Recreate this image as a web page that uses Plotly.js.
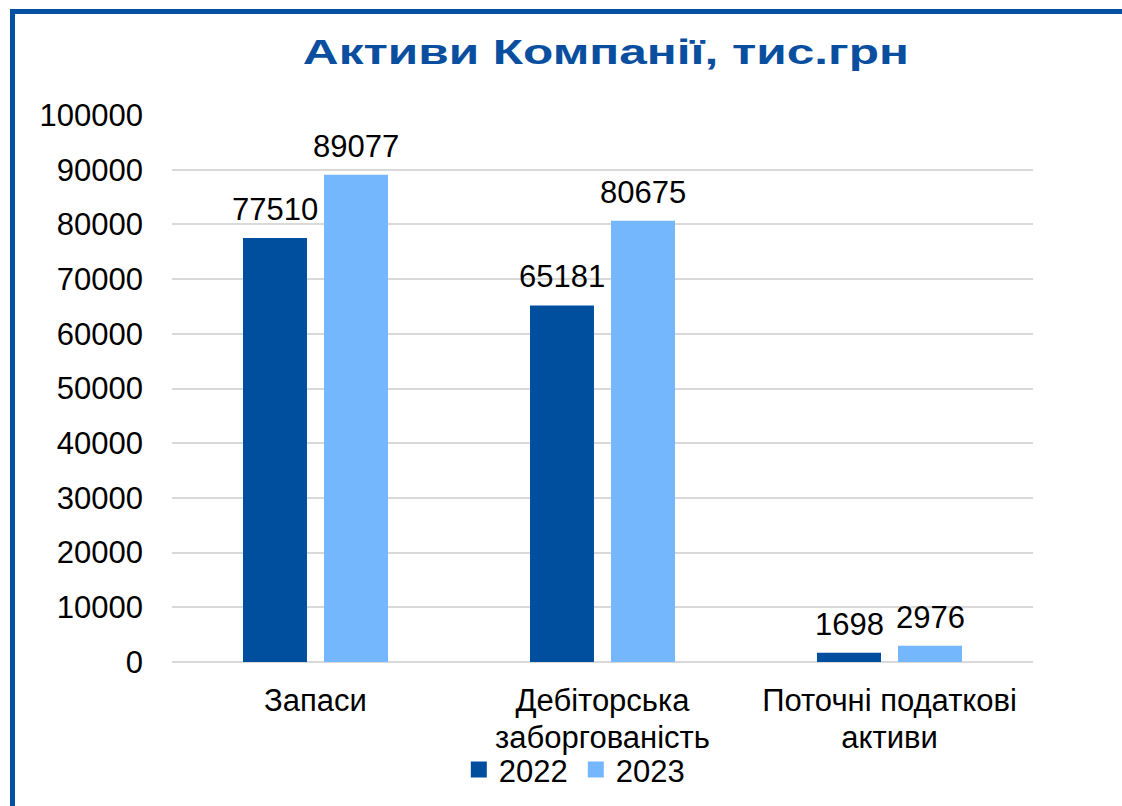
<!DOCTYPE html>
<html>
<head>
<meta charset="utf-8">
<script src="https://cdn.plot.ly/plotly-3.0.1.min.js"></script>
<style>
  html, body { margin: 0; padding: 0; background: #ffffff; }
  #wrap { position: relative; width: 1122px; height: 806px; overflow: hidden; }
  #chart { position: absolute; left: 0; top: 0; width: 1122px; height: 806px; }
  #frame { position: absolute; left: 10px; top: 9px; width: 1120px; height: 810px;
           border-left: 5px solid #0451a1; border-top: 5px solid #0451a1; pointer-events: none; }
</style>
</head>
<body>
<div id="wrap">
  <div id="chart"></div>
  <div id="frame"></div>
</div>
<script>
const categories = ["Запаси", "Дебіторська<br>заборгованість", "Поточні податкові<br>активи"];
const series2022 = [77510, 65181, 1698];
const series2023 = [89077, 80675, 2976];
const seriesNames = ["2022", "2023"];
const seriesColors = ["#004f9f", "#75b7fd"];
const yTicks = [0, 10000, 20000, 30000, 40000, 50000, 60000, 70000, 80000, 90000, 100000];
const titleText = "Активи Компанії, тис.грн";

const font = "Liberation Sans, Arial, sans-serif";
const labelFont = { family: font, size: 31, color: "#000000" };

const allSeries = [series2022, series2023];

const traces = [];
allSeries.forEach((vals, i) => {
  traces.push({ type: "bar", name: seriesNames[i], x: categories, y: vals,
    marker: { color: seriesColors[i] }, showlegend: false, hoverinfo: "none" });
});
// legend entries with larger square markers
allSeries.forEach((vals, i) => {
  traces.push({ type: "scatter", mode: "markers", name: seriesNames[i], x: [null], y: [null],
    marker: { symbol: "square", size: 16, color: seriesColors[i] }, showlegend: true });
});

// data labels above bars (grouped: series 0 left, series 1 right)
const barShift = 40.5;
const annotations = [];
allSeries.forEach((vals, i) => {
  vals.forEach((v, j) => {
    annotations.push({ x: categories[j], y: v, xref: "x", yref: "y", text: String(v),
      showarrow: false, yanchor: "bottom", xanchor: "center",
      xshift: (i === 0 ? -barShift : barShift), yshift: 9, font: labelFont });
  });
});

const layout = {
  width: 1122, height: 806,
  margin: { l: 172, r: 89, t: 115, b: 144, autoexpand: false },
  paper_bgcolor: "#ffffff", plot_bgcolor: "#ffffff",
  font: { family: font, color: "#000000" },
  title: { text: titleText, font: { family: font, size: 35, weight: "bold", color: "#0a4f9f" },
           x: 0.54, xanchor: "center", y: 0.936, yanchor: "middle" },
  barmode: "group", bargap: 0.4355, bargroupgap: 0.21,
  xaxis: { type: "category", tickfont: labelFont, showline: false, showgrid: false,
           ticks: "", ticklabelstandoff: 17, automargin: false },
  yaxis: { range: [0, 100000], tickvals: yTicks, ticktext: yTicks.map(String),
           tickfont: labelFont, showgrid: true, gridcolor: "#d9d9d9", gridwidth: 2,
           zeroline: true, zerolinecolor: "#d9d9d9", zerolinewidth: 2,
           showline: false, ticks: "", ticklabelstandoff: 28, automargin: false },
  legend: { orientation: "h", x: 0.469, xanchor: "center", y: -0.197, yanchor: "middle",
            font: labelFont, entrywidth: 72, traceorder: "normal",
            bgcolor: "rgba(0,0,0,0)" },
  annotations: annotations,
  showlegend: true
};

Plotly.newPlot("chart", traces, layout, { displayModeBar: false, staticPlot: true }).then(gd => {
  // stretch title horizontally like the reference
  const t = gd.querySelector(".gtitle");
  if (t) {
    t.setAttribute("textLength", "606");
    t.setAttribute("lengthAdjust", "spacingAndGlyphs");
  }
  // line spacing for multi-line category labels
  gd.querySelectorAll(".xtick text tspan.line").forEach(sp => {
    if (sp.getAttribute("dy") && sp.getAttribute("dy") !== "0em") sp.setAttribute("dy", "1.19em");
  });
});
</script>
</body>
</html>
